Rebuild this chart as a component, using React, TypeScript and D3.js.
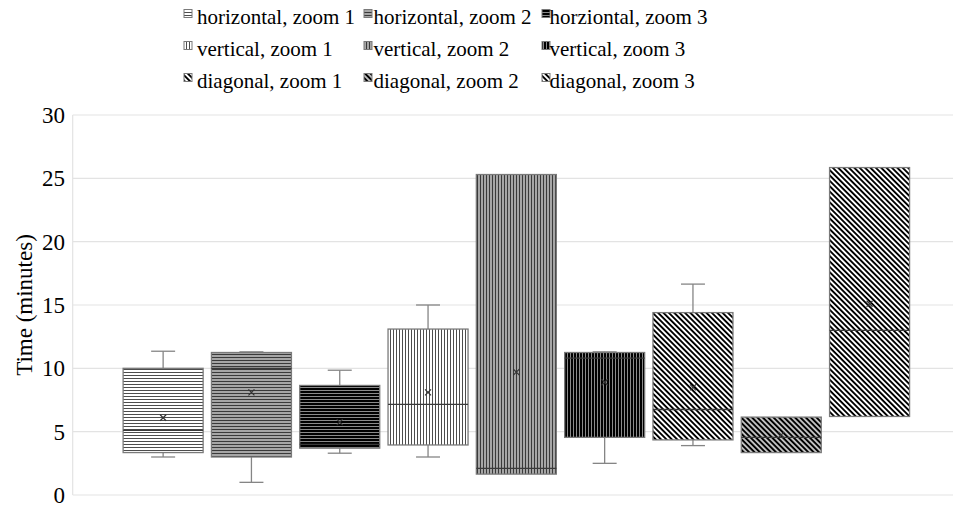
import React from "react";
import * as d3 from "d3";

const seriesNames = [
  "horizontal, zoom 1",
  "horizontal, zoom 2",
  "horziontal, zoom 3",
  "vertical, zoom 1",
  "vertical, zoom 2",
  "vertical, zoom 3",
  "diagonal, zoom 1",
  "diagonal, zoom 2",
  "diagonal, zoom 3",
];
const whiskerLow = [3.0, 1.0, 3.3, 3.0, 1.65, 2.5, 3.9, 3.35, 6.2];
const q1 = [3.35, 3.0, 3.7, 3.95, 1.65, 4.55, 4.35, 3.35, 6.2];
const median = [5.1, 10.0, 4.0, 7.15, 2.1, 10.8, 6.75, 4.55, 13.0];
const q3 = [10.0, 11.25, 8.65, 13.1, 25.3, 11.25, 14.4, 6.15, 25.85];
const whiskerHigh = [11.35, 11.3, 9.85, 15.0, 25.3, 11.3, 16.65, 6.15, 25.85];
const mean = [6.1, 8.1, 5.75, 8.1, 9.7, 8.9, 8.5, 4.75, 15.1];
const yTicks = [0, 5, 10, 15, 20, 25, 30];

// pattern per series: orientation, background, stripe colour
const patterns = [
  { dir: "h", bg: "#ffffff", fg: "#4d4d4d" },
  { dir: "h", bg: "#a6a6a6", fg: "#3a3a3a" },
  { dir: "h", bg: "#000000", fg: "#8a8a8a" },
  { dir: "v", bg: "#ffffff", fg: "#4d4d4d" },
  { dir: "v", bg: "#a6a6a6", fg: "#3a3a3a" },
  { dir: "v", bg: "#000000", fg: "#8a8a8a" },
  { dir: "d", bg: "#ffffff", fg: "#000000" },
  { dir: "d", bg: "#c0c0c0", fg: "#000000" },
  { dir: "d", bg: "#000000", fg: "#ffffff" },
];

const width = 953;
const height = 508;
const plotLeft = 72.7;
const plotRight = 960;
const plotTop = 115;
const plotBottom = 495;
const font = "'Liberation Serif', 'Times New Roman', serif";

const Pattern = ({ id, dir, bg, fg }) => {
  if (dir === "d") {
    return (
      <pattern id={id} patternUnits="userSpaceOnUse" width={3.8} height={3.8} patternTransform="rotate(-45)">
        <rect width={3.8} height={3.8} fill={bg} />
        <rect width={1.9} height={3.8} fill={fg} />
      </pattern>
    );
  }
  return (
    <pattern id={id} patternUnits="userSpaceOnUse" width={3} height={3}>
      <rect width={3} height={3} fill={bg} />
      {dir === "h" ? <rect width={3} height={1} fill={fg} /> : <rect width={1} height={3} fill={fg} />}
    </pattern>
  );
};

export default function App() {
  const y = d3.scaleLinear().domain([0, 30]).range([plotBottom, plotTop]);
  const x = d3
    .scaleBand()
    .domain(seriesNames)
    .range([plotLeft, plotRight])
    .paddingInner(0.094)
    .paddingOuter(0.571);
  const bw = x.bandwidth();
  const capW = 24;

  const legendSwatchX = [184, 364, 542];
  const legendTextX = [197, 373.5, 549.5];
  const legendBaseline = [23.5, 55.5, 87.5];

  return (
    <div style={{ position: "absolute", left: 0, top: 0 }}>
      <svg width={width} height={height} style={{ display: "block", background: "#fff" }}>
        <defs>
          {patterns.map((p, i) => (
            <Pattern key={i} id={`pat${i}`} {...p} />
          ))}
        </defs>

        {/* grid */}
        {yTicks.map(t => (
          <line key={t} x1={plotLeft} x2={plotRight} y1={y(t)} y2={y(t)} stroke="#e3e3e3" strokeWidth={1.2} />
        ))}
        <line x1={plotLeft} x2={plotLeft} y1={plotTop} y2={plotBottom} stroke="#e3e3e3" strokeWidth={1.2} />

        {/* y ticks */}
        {yTicks.map(t => (
          <text key={t} x={65} y={y(t) + 8} textAnchor="end" fontFamily={font} fontSize={23} fill="#000">
            {t}
          </text>
        ))}
        <text
          transform={`translate(32, ${(plotTop + plotBottom) / 2}) rotate(-90)`}
          textAnchor="middle"
          fontFamily={font}
          fontSize={23}
          fill="#000"
        >
          Time (minutes)
        </text>

        {/* boxes */}
        {seriesNames.map((name, i) => {
          const x0 = x(name);
          const cx = x0 + bw / 2;
          const m = y(mean[i]);
          return (
            <g key={name}>
              {whiskerLow[i] < q1[i] && (
                <g stroke="#858585" strokeWidth={1.3}>
                  <line x1={cx} x2={cx} y1={y(q1[i])} y2={y(whiskerLow[i])} />
                  <line x1={cx - capW / 2} x2={cx + capW / 2} y1={y(whiskerLow[i])} y2={y(whiskerLow[i])} />
                </g>
              )}
              {whiskerHigh[i] > q3[i] && (
                <g stroke="#858585" strokeWidth={1.3}>
                  <line x1={cx} x2={cx} y1={y(q3[i])} y2={y(whiskerHigh[i])} />
                  <line x1={cx - capW / 2} x2={cx + capW / 2} y1={y(whiskerHigh[i])} y2={y(whiskerHigh[i])} />
                </g>
              )}
              <rect
                x={x0}
                y={y(q3[i])}
                width={bw}
                height={y(q1[i]) - y(q3[i])}
                fill={`url(#pat${i})`}
                stroke="#7a7a7a"
                strokeWidth={1.3}
              />
              <line x1={x0} x2={x0 + bw} y1={y(median[i])} y2={y(median[i])} stroke="#3a3a3a" strokeWidth={1.3} />
              <path
                d={`M${cx - 3},${m - 3}L${cx + 3},${m + 3}M${cx - 3},${m + 3}L${cx + 3},${m - 3}`}
                stroke="#333"
                strokeWidth={1.2}
              />
            </g>
          );
        })}

        {/* legend */}
        {seriesNames.map((name, i) => {
          const row = Math.floor(i / 3);
          const col = i % 3;
          const b = legendBaseline[row];
          return (
            <g key={name}>
              <rect
                x={legendSwatchX[col]}
                y={b - 14}
                width={8}
                height={8}
                fill={`url(#pat${i})`}
                stroke="#7a7a7a"
                strokeWidth={1}
              />
              <text x={legendTextX[col]} y={b} fontFamily={font} fontSize={21} fill="#000">
                {name}
              </text>
            </g>
          );
        })}
      </svg>
    </div>
  );
}
